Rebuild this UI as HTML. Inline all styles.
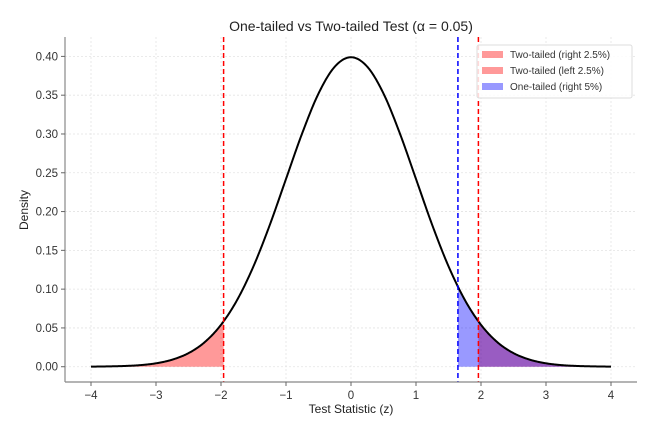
<!DOCTYPE html>
<html><head><meta charset="utf-8"><style>
body{margin:0;background:#fff;}
svg{font-family:"Liberation Sans","DejaVu Sans",sans-serif;}
</style></head><body>
<svg id="chart" width="666" height="430" xmlns="http://www.w3.org/2000/svg"></svg>
<script>
const xGrid = [-4,-3.75,-3.5,-3.25,-3,-2.75,-2.5,-2.25,-2,-1.75,-1.5,-1.25,-1,-0.75,-0.5,-0.25,0,0.25,0.5,0.75,1,1.25,1.5,1.75,2,2.25,2.5,2.75,3,3.25,3.5,3.75,4];
const density = [0.0001,0.0004,0.0009,0.0020,0.0044,0.0091,0.0175,0.0317,0.0540,0.0863,0.1295,0.1826,0.2420,0.3011,0.3521,0.3867,0.3989,0.3867,0.3521,0.3011,0.2420,0.1826,0.1295,0.0863,0.0540,0.0317,0.0175,0.0091,0.0044,0.0020,0.0009,0.0004,0.0001];
const twoTailCrit = 1.96;
const oneTailCrit = 1.645;
const xTicks = [-4,-3,-2,-1,0,1,2,3,4];
const xTickLabels = ["−4","−3","−2","−1","0","1","2","3","4"];
const yTicks = [0,0.05,0.10,0.15,0.20,0.25,0.30,0.35,0.40];
const yTickLabels = ["0.00","0.05","0.10","0.15","0.20","0.25","0.30","0.35","0.40"];

const L=65,R=637,T=37,B=382;
const xMin=-4.4,xMax=4.4,yMin=-0.0197,yMax=0.425;
const sx=v=>L+(v-xMin)/(xMax-xMin)*(R-L);
const sy=v=>B-(v-yMin)/(yMax-yMin)*(B-T);
const NS="http://www.w3.org/2000/svg";
const svg=document.getElementById('chart');
function mk(tag,attrs,parent){const e=document.createElementNS(NS,tag);for(const k in attrs)e.setAttribute(k,attrs[k]);(parent||svg).appendChild(e);return e;}

function yAt(x){
  const n=xGrid.length;
  if(x<=xGrid[0])return density[0];
  if(x>=xGrid[n-1])return density[n-1];
  let i=0;while(xGrid[i+1]<x)i++;
  const h=xGrid[i+1]-xGrid[i],t=(x-xGrid[i])/h;
  const p0=density[i],p1=density[i+1];
  const m0=i>0?(density[i+1]-density[i-1])/2:(p1-p0);
  const m1=i<n-2?(density[i+2]-density[i])/2:(p1-p0);
  const t2=t*t,t3=t2*t;
  return (2*t3-3*t2+1)*p0+(t3-2*t2+t)*m0+(-2*t3+3*t2)*p1+(t3-t2)*m1;
}
function areaPath(a,b){
  let d=`M${sx(a)},${sy(0)}`;
  for(let i=0;i<=200;i++){const x=a+(b-a)*i/200;d+=` L${sx(x).toFixed(2)},${sy(yAt(x)).toFixed(2)}`;}
  return d+` L${sx(b)},${sy(0)} Z`;
}

yTicks.forEach(v=>{const g=mk('line',{x1:L,x2:R,y1:sy(v),y2:sy(v),stroke:'#e3e3e3','stroke-width':0.8,'stroke-dasharray':'2,2'});
});
xTicks.forEach(v=>{const g=mk('line',{x1:sx(v),x2:sx(v),y1:T,y2:B,stroke:'#e3e3e3','stroke-width':0.8,'stroke-dasharray':'2,2'});
});

const fr=mk('path',{d:areaPath(twoTailCrit,xGrid[xGrid.length-1]),fill:'#ff0000','fill-opacity':0.4});

const fl=mk('path',{d:areaPath(xGrid[0],-twoTailCrit),fill:'#ff0000','fill-opacity':0.4});

const fb=mk('path',{d:areaPath(oneTailCrit,xGrid[xGrid.length-1]),fill:'#0000ff','fill-opacity':0.4});


let d='';for(let i=0;i<=800;i++){const x=xGrid[0]+(xGrid[xGrid.length-1]-xGrid[0])*i/800;d+=(i?' L':'M')+sx(x).toFixed(2)+','+sy(yAt(x)).toFixed(2);}
const c=mk('path',{d:d,fill:'none',stroke:'#000','stroke-width':2});


[[-twoTailCrit,'#ff0000','critical-line-left'],[twoTailCrit,'#ff0000','critical-line-right'],[oneTailCrit,'#0000ff','critical-line-one-tailed']].forEach(([v,col,nm])=>{
  const l=mk('line',{x1:sx(v),x2:sx(v),y1:T,y2:B,stroke:col,'stroke-width':1.5,'stroke-dasharray':'5,3'});
  
});

const sl=mk('line',{x1:L,x2:L,y1:T,y2:B,stroke:'#888','stroke-width':1.2});

const sb=mk('line',{x1:L,x2:R,y1:B,y2:B,stroke:'#888','stroke-width':1.2});


xTicks.forEach((v,i)=>{
  const tk=mk('line',{x1:sx(v),x2:sx(v),y1:B,y2:B+4,stroke:'#666'});
  
  const t=mk('text',{x:sx(v),y:B+17,'text-anchor':'middle','font-size':11.5,fill:'#333'});t.textContent=xTickLabels[i];
  
});
yTicks.forEach((v,i)=>{
  const tk=mk('line',{x1:L-4,x2:L,y1:sy(v),y2:sy(v),stroke:'#666'});
  
  const t=mk('text',{x:L-7,y:sy(v)+4,'text-anchor':'end','font-size':11.5,fill:'#333'});t.textContent=yTickLabels[i];
  
});
</script>
<svg style="position:absolute;left:0;top:0" width="666" height="430" xmlns="http://www.w3.org/2000/svg">
<text x="351" y="31" text-anchor="middle" font-size="14" fill="#222" font-family="Liberation Sans, DejaVu Sans, sans-serif">One-tailed vs Two-tailed Test (α = 0.05)</text>
<text x="351" y="413" text-anchor="middle" font-size="12" fill="#222" font-family="Liberation Sans, DejaVu Sans, sans-serif">Test Statistic (z)</text>
<text transform="translate(28,210) rotate(-90)" text-anchor="middle" font-size="12" fill="#222" font-family="Liberation Sans, DejaVu Sans, sans-serif">Density</text>
<g font-family="Liberation Sans, DejaVu Sans, sans-serif" font-size="10" fill="#333">
<rect x="477" y="45" width="155" height="53" rx="2" fill="#fff" fill-opacity="0.85" stroke="#ddd"/>
<g><rect x="482" y="51" width="21" height="7" fill="#ff0000" fill-opacity="0.4"/><text x="510" y="58">Two-tailed (right 2.5%)</text></g>
<g><rect x="482" y="67" width="21" height="7" fill="#ff0000" fill-opacity="0.4"/><text x="510" y="74">Two-tailed (left 2.5%)</text></g>
<g><rect x="482" y="83" width="21" height="7" fill="#0000ff" fill-opacity="0.4"/><text x="510" y="90">One-tailed (right 5%)</text></g>
</g>
</svg>
</body></html>
